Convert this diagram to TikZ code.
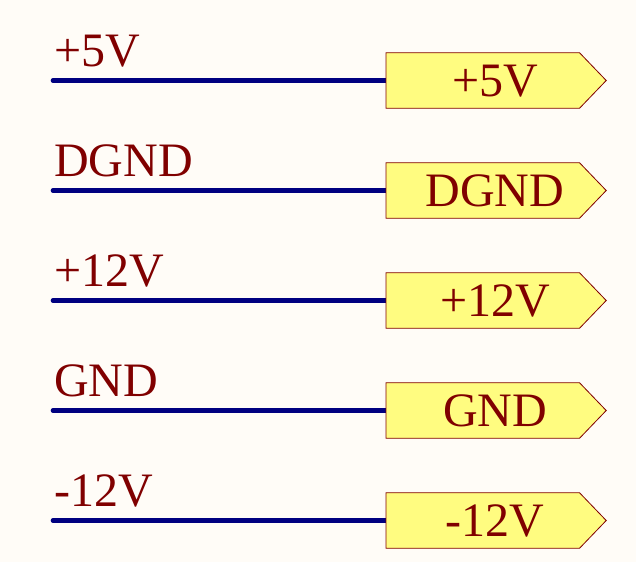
\documentclass[tikz,border=0pt]{standalone}
\usepackage{fontspec}
\setmainfont{Liberation Serif}
\usepackage{tikz}
\usetikzlibrary{calc}

\definecolor{netred}{HTML}{800000}
\definecolor{wireblue}{HTML}{000080}
\definecolor{portfill}{HTML}{FFFC80}
\definecolor{sheet}{HTML}{FFFCF7}

\tikzset{
	wire/.style={draw=wireblue, line width=4.6pt, line cap=round},
	portbox/.style={draw=netred, fill=portfill, line width=0.8pt, line join=miter},
	netname/.style={text=netred, inner sep=0pt, font=\fontsize{48}{48}\selectfont},
}

\begin{document}
\begin{tikzpicture}[x=1pt,y=1pt]
	
	\fill[sheet] (0,0) rectangle (636,-562);
	\useasboundingbox (0,0) rectangle (636,-562);
	
	\foreach \lbl [count=\i] in {+5V,DGND,+12V,GND,-12V} {
		\pgfmathsetmacro{\y}{-80.5-110*(\i-1)}
		\coordinate (w\i) at (53,\y);
		\coordinate (p\i) at (386,\y);
		\draw[wire] (w\i) -- (p\i);
		\draw[portbox] (p\i) -- ++(0,27.8) -- ++(193.5,0) -- ++(26.7,-27.8)
			-- ++(-26.7,-27.8) -- ++(-193.5,0) -- cycle;
		\node[netname, anchor=base west] (n\i) at ($(w\i)+(1,14)$) {\lbl};
		\node[netname, anchor=base] (t\i) at ($(p\i)+(109,-15.5)$) {\lbl};
	}
	
\end{tikzpicture}
\end{document}
